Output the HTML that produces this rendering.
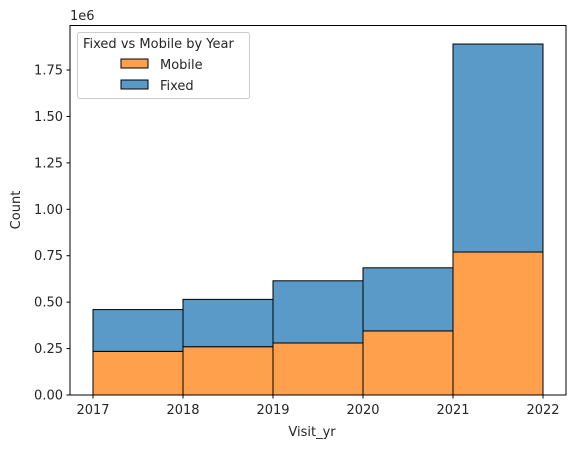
<!DOCTYPE html>
<html><head><meta charset="utf-8"><style>
body{margin:0;background:#fff;font-family:"Liberation Sans","DejaVu Sans",sans-serif;}
svg text{font-family:"DejaVu Sans","Liberation Sans",sans-serif;font-size:13px;fill:#262626;}
</style></head><body>
<svg id="chart" width="576" height="448"></svg>
<script>
const years = [2017, 2018, 2019, 2020, 2021];
const mobile = [0.235, 0.26, 0.28, 0.345, 0.77];
const fixed = [0.225, 0.255, 0.335, 0.34, 1.12];
const yTicks = [0, 0.25, 0.5, 0.75, 1.0, 1.25, 1.5, 1.75];
const xTicks = [2017, 2018, 2019, 2020, 2021, 2022];

const svg = document.getElementById('chart');
const NS = 'http://www.w3.org/2000/svg';
const L=70, R=566, T=25.5, B=395;
const xS = v => 93 + (v-2017)*90;
const yS = v => B - v*185.7;
function mk(tag, attrs, parent){const e=document.createElementNS(NS,tag);for(const k in attrs)e.setAttribute(k,attrs[k]);(parent||svg).appendChild(e);return e;}

years.forEach((yr,i)=>{
  const x0=xS(yr), x1=xS(yr+1);
  const r1=mk('rect',{x:x0,y:yS(mobile[i]),width:x1-x0,height:yS(0)-yS(mobile[i]),fill:'#ffa04d',stroke:'#000','stroke-width':1});
  
  
  const top=mobile[i]+fixed[i];
  const r2=mk('rect',{x:x0,y:yS(top),width:x1-x0,height:yS(mobile[i])-yS(top),fill:'#5a9ac8',stroke:'#000','stroke-width':1});
  
  
});
const frame=mk('rect',{x:L,y:T,width:R-L,height:B-T,fill:'none',stroke:'#000','stroke-width':1});



yTicks.forEach(v=>{
  const y=yS(v);
  mk('line',{x1:L-3.5,x2:L,y1:y,y2:y,stroke:'#000'});
  const t=mk('text',{x:L-7,y:y+4.5,'text-anchor':'end'});
  t.textContent=v.toFixed(2);
  
  
});
xTicks.forEach(v=>{
  const x=xS(v);
  mk('line',{x1:x,x2:x,y1:B,y2:B+3.5,stroke:'#000'});
  const t=mk('text',{x:x,y:B+19,'text-anchor':'middle'});
  t.textContent=v;
  
  
});
</script>
<svg width="576" height="448" style="position:absolute;left:0;top:0">
<text x="70" y="20">1e6</text>
<text x="312" y="436" text-anchor="middle">Visit_yr</text>
<text x="20" y="210" text-anchor="middle" transform="rotate(-90 20 210)">Count</text>
<g>
<rect x="77.5" y="32.5" width="172" height="66" rx="2" fill="#fff" fill-opacity="0.8" stroke="#ccc"/>
<text x="83" y="48">Fixed vs Mobile by Year</text>
<rect x="121" y="59" width="27" height="9" fill="#ffa04d" stroke="#000"/>
<text x="160" y="69">Mobile</text>
<rect x="121" y="80" width="27" height="9" fill="#5a9ac8" stroke="#000"/>
<text x="160" y="90">Fixed</text>
</g>
</svg>
</body></html>
